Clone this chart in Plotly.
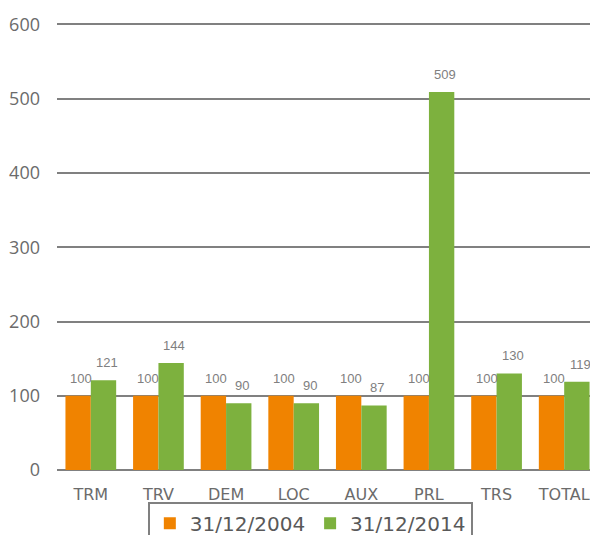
import plotly.graph_objects as go

# categories and index values (base 100 at 31/12/2004)
categories = ['TRM', 'TRV', 'DEM', 'LOC', 'AUX', 'PRL', 'TRS', 'TOTAL']
values_2004 = [100, 100, 100, 100, 100, 100, 100, 100]
values_2014 = [121, 144, 90, 90, 87, 509, 130, 119]
series_names = ['31/12/2004', '31/12/2014']
y_ticks = [0, 100, 200, 300, 400, 500, 600]

orange = '#F08300'
green = '#7DB13E'
grid = '#808080'

fig = go.Figure()
fig.add_trace(go.Bar(x=categories, y=values_2004, name=series_names[0],
                     marker=dict(color=orange, line=dict(width=0))))
fig.add_trace(go.Bar(x=categories, y=values_2014, name=series_names[1],
                     marker=dict(color=green, line=dict(width=0))))

# data labels above each bar
for cat, v1, v2 in zip(categories, values_2004, values_2014):
    for v, shift in ((v1, -10), (v2, 16)):
        fig.add_annotation(x=cat, y=v, text=str(v), showarrow=False,
                           xshift=shift, yshift=8, yanchor='bottom',
                           font=dict(family='Liberation Sans', size=13, color='#808080'))

# page has an 8px body margin, so the figure is shifted by (8, 8)
fig.update_layout(
    width=590, height=527,
    margin=dict(l=49, r=0, t=15, b=65),
    paper_bgcolor='white', plot_bgcolor='white',
    barmode='group', bargap=0.25, bargroupgap=0,
    showlegend=True,
    legend=dict(orientation='h', xref='container', yref='container',
                x=0.237, xanchor='left', y=0.063, yanchor='top',
                bordercolor='#808080', borderwidth=2,
                font=dict(family='DejaVu Sans', size=20, color='#595959'),
                itemwidth=30, tracegroupgap=0),
)
fig.update_xaxes(showgrid=False, showline=False, ticks='', automargin=False,
                 ticklabelstandoff=13,
                 tickfont=dict(family='DejaVu Sans', size=16, color='#6b6b6b'))
fig.update_yaxes(range=[0, 602], tickvals=y_ticks, showgrid=True, automargin=False,
                 gridcolor=grid, gridwidth=2, zeroline=True, zerolinecolor=grid,
                 zerolinewidth=2, showline=False, ticks='', ticklabelstandoff=16,
                 tickfont=dict(family='Open Sans', size=18, color='#6b6b6b'))

fig.write_html("out.html")
